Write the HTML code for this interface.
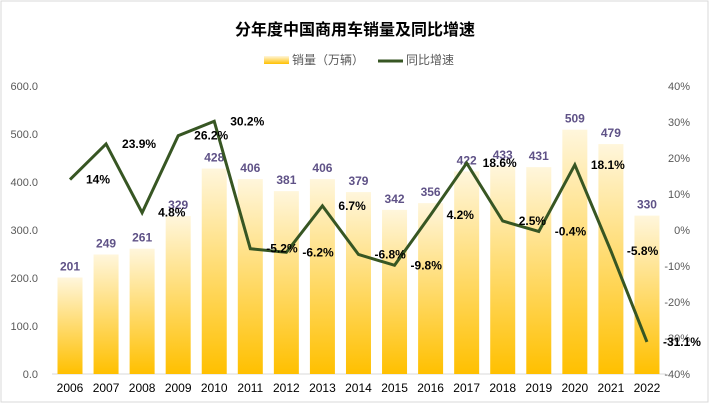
<!DOCTYPE html>
<html><head><meta charset="utf-8"><style>
body{margin:0;background:#fff}
svg{display:block;font-family:"Liberation Sans","Noto Sans CJK SC",sans-serif}
</style></head><body>
<svg id="c" width="710" height="404">
<defs><linearGradient id="g" x1="0" y1="0" x2="0" y2="1">
<stop offset="0" stop-color="#fff6dc"/><stop offset="1" stop-color="#ffc000"/></linearGradient></defs>
<rect x="1" y="1" width="707" height="401" fill="#fff" stroke="#d9d9d9"/>
<text x="355" y="35" text-anchor="middle" font-size="16" font-weight="bold" fill="#000">分年度中国商用车销量及同比增速</text>
<g>
<rect x="264" y="56" width="25" height="8" fill="url(#g)"/>
<text x="292" y="64" font-size="12" fill="#595959">销量（万辆）</text>
<line x1="378" y1="61" x2="403" y2="61" stroke="#375623" stroke-width="3"/>
<text x="406" y="64" font-size="12" fill="#595959">同比增速</text>
</g>
<g id="axes"></g><g id="bars"></g><g id="line"></g>
</svg>
<script>
const years=["2006","2007","2008","2009","2010","2011","2012","2013","2014","2015","2016","2017","2018","2019","2020","2021","2022"];
const sales=[201,249,261,329,428,406,381,406,379,342,356,422,433,431,509,479,330];
const growth=[14,23.9,4.8,26.2,30.2,-5.2,-6.2,6.7,-6.8,-9.8,4.2,18.6,2.5,-0.4,18.1,-5.8,-31.1];
const growthLabels=["14%","23.9%","4.8%","26.2%","30.2%","-5.2%","-6.2%","6.7%","-6.8%","-9.8%","4.2%","18.6%","2.5%","-0.4%","18.1%","-5.8%","-31.1%"];
const leftTicks=[0,100,200,300,400,500,600];
const rightTicks=[-40,-30,-20,-10,0,10,20,30,40];
const NS="http://www.w3.org/2000/svg";
const plotTop=86,plotBot=374;
const xc=i=>70+i*36.06;
const yl=v=>plotBot-(v/600)*(plotBot-plotTop);
const yr=v=>plotBot-((v+40)/80)*(plotBot-plotTop);
function mk(t,a,p){const e=document.createElementNS(NS,t);for(const k in a)e.setAttribute(k,a[k]);p.appendChild(e);return e;}
const ax=document.getElementById('axes'),bg=document.getElementById('bars'),lg=document.getElementById('line');
leftTicks.forEach(v=>{const t=mk('text',{x:38,y:yl(v)+4,'text-anchor':'end','font-size':11,fill:'#595959'},ax);t.textContent=v.toFixed(1);

});
rightTicks.forEach(v=>{const t=mk('text',{x:690,y:yr(v)+4,'text-anchor':'end','font-size':11,fill:'#595959'},ax);t.textContent=v+'%';

});
const base=mk('line',{x1:52,x2:666,y1:plotBot,y2:plotBot,stroke:'#d9d9d9'},ax);


years.forEach((y,i)=>{const t=mk('text',{x:xc(i),y:392,'text-anchor':'middle','font-size':12,fill:'#000'},ax);t.textContent=y;

});
sales.forEach((v,i)=>{const r=mk('rect',{x:xc(i)-12.5,y:yl(v),width:25,height:plotBot-yl(v),fill:'url(#g)'},bg);


const t=mk('text',{x:xc(i),y:yl(v)-7,'text-anchor':'middle','font-size':12,'font-weight':'bold',fill:'#5f5287'},bg);t.textContent=v;

});
const pts=growth.map((v,i)=>xc(i)+','+yr(v)).join(' ');
const pl=mk('polyline',{points:pts,fill:'none',stroke:'#375623','stroke-width':3,'stroke-linejoin':'miter'},lg);


growth.forEach((v,i)=>{const t=mk('text',{x:xc(i)+16,y:yr(v)+4,'font-size':12,'font-weight':'bold',fill:'#000'},lg);t.textContent=growthLabels[i];

});
</script>
</body></html>
